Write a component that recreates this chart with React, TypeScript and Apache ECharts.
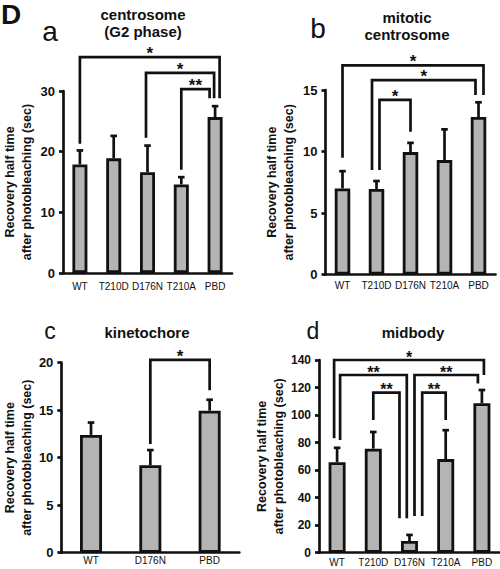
import { useEffect, useRef } from 'react';
import * as echarts from 'echarts';

// ---------- data ----------
const catsA = ['WT', 'T210D', 'D176N', 'T210A', 'PBD'];
const meanA = [17.9, 18.9, 16.6, 14.6, 25.7];
const errA = [20.2, 22.6, 21.0, 15.8, 27.5];
// [from, to, top, fromEnd, toEnd, label]
const bracketsA: [number, number, number, number, number, string][] = [
  [0, 4, 35.6, 21.3, 28.8, '*'],
  [2, 4, 33.0, 22.3, 28.8, '*'],
  [3, 4, 30.3, 17.0, 28.8, '**'],
];

const catsB = ['WT', 'T210D', 'D176N', 'T210A', 'PBD'];
const meanB = [7.0, 6.95, 9.95, 9.3, 12.8];
const errB = [8.4, 7.6, 10.7, 11.8, 14.0];
const bracketsB: [number, number, number, number, number, string][] = [
  [0, 4, 17.0, 9.5, 14.6, '*'],
  [1, 4, 15.8, 8.5, 14.6, '*'],
  [1, 2, 14.2, 8.5, 11.6, '*'],
];

const catsC = ['WT', 'D176N', 'PBD'];
const meanC = [12.4, 9.2, 14.95];
const errC = [13.7, 10.8, 16.1];
const bracketsC: [number, number, number, number, number, string][] = [
  [1, 2, 20.3, 11.45, 17.1, '*'],
];

const catsD = ['WT', 'T210D', 'D176N', 'T210A', 'PBD'];
const meanD = [65.8, 75.6, 8.5, 68.0, 108.6];
const errD = [76.2, 87.7, 12.9, 89.0, 118.2];
const bracketsD: [number, number, number, number, number, string][] = [
  [0, 4, 140, 83.1, 129.1, '*'],
  [0, 2, 129.1, 81.9, 25, '**'],
  [1, 2, 116.3, 96.4, 25, '**'],
  [2, 4, 129.1, 26.7, 123, '**'],
  [2, 3, 116.3, 26.7, 96.4, '**'],
];

// ---------- styling (leg offsets in px so parallel legs don't overlap) ----------
const legOffA = [[0, 4.5], [-1.5, -1], [0, -5.5]];
const legOffB = [[0, 5], [-4.5, -3], [3, 0]];
const legOffC = [[0, 0]];
const legOffD = [[-3, 2], [3, -2.7], [0, -10], [5, -4], [12.7, 0]];

const FONT = '"Liberation Sans", Arial, Helvetica, sans-serif';
const INK = '#111';
const BAR = '#b4b4b4';
const LW = 2.7;

type Panel = {
  cats: string[];
  mean: number[];
  err: number[];
  brackets: [number, number, number, number, number, string][];
  legOff: number[][];
  grid: { left: number; top: number; width: number; height: number };
  max: number;
  interval: number;
  barWidth: number;
  tickFont: number;
  catFont: number;
  catMargin: number;
  nameGap: number;
  starFont: number;
};

const panels: Panel[] = [
  {
    cats: catsA, mean: meanA, err: errA, brackets: bracketsA, legOff: legOffA,
    grid: { left: 62, top: 91, width: 170, height: 182 },
    max: 30, interval: 10, barWidth: 15, tickFont: 13, catFont: 10, catMargin: 8, nameGap: 28, starFont: 17,
  },
  {
    cats: catsB, mean: meanB, err: errB, brackets: bracketsB, legOff: legOffB,
    grid: { left: 325.5, top: 90, width: 170, height: 184.5 },
    max: 15, interval: 5, barWidth: 15.5, tickFont: 13, catFont: 10, catMargin: 6, nameGap: 28, starFont: 17,
  },
  {
    cats: catsC, mean: meanC, err: errC, brackets: bracketsC, legOff: legOffC,
    grid: { left: 57.3, top: 362.7, width: 182, height: 190 },
    max: 20, interval: 5, barWidth: 22, tickFont: 13, catFont: 10, catMargin: 3, nameGap: 24, starFont: 17,
  },
  {
    cats: catsD, mean: meanD, err: errD, brackets: bracketsD, legOff: legOffD,
    grid: { left: 319, top: 360, width: 181, height: 192.7 },
    max: 140, interval: 20, barWidth: 17, tickFont: 12, catFont: 10, catMargin: 5, nameGap: 29, starFont: 16,
  },
];

function buildOption() {
  const grid: any[] = [];
  const xAxis: any[] = [];
  const yAxis: any[] = [];
  const series: any[] = [];

  panels.forEach((p, k) => {
    grid.push({ ...p.grid, containLabel: false });
    xAxis.push({
      type: 'category',
      gridIndex: k,
      data: p.cats,
      boundaryGap: true,
      axisLine: { lineStyle: { color: INK, width: LW } },
      axisTick: { show: false },
      axisLabel: { color: INK, fontSize: p.catFont, fontFamily: FONT, margin: p.catMargin, interval: 0 },
      splitLine: { show: false },
    });
    yAxis.push({
      type: 'value',
      gridIndex: k,
      min: 0,
      max: p.max,
      interval: p.interval,
      name: 'Recovery half time\nafter photobleaching (sec)',
      nameLocation: 'middle',
      nameRotate: 90,
      nameGap: p.nameGap,
      nameTextStyle: { color: INK, fontSize: 12.5, fontWeight: 'bold', fontFamily: FONT, lineHeight: 17 },
      axisLine: { show: true, lineStyle: { color: INK, width: LW } },
      axisTick: { show: true, length: 4, lineStyle: { color: INK, width: LW } },
      axisLabel: { color: INK, fontSize: p.tickFont, fontWeight: 'bold', fontFamily: FONT, margin: 8 },
      splitLine: { show: false },
    });
    series.push({
      type: 'bar',
      xAxisIndex: k,
      yAxisIndex: k,
      data: p.mean,
      barWidth: p.barWidth,
      itemStyle: { color: BAR, borderColor: INK, borderWidth: 2.8 },
      z: 2,
    });
    series.push({
      type: 'custom',
      xAxisIndex: k,
      yAxisIndex: k,
      clip: false,
      z: 3,
      data: p.err.map((e, i) => [i, p.mean[i], e]),
      renderItem: (_params: any, api: any) => {
        const i = api.value(0);
        const base = api.coord([i, api.value(1)]);
        const top = api.coord([i, api.value(2)]);
        return {
          type: 'group',
          children: [
            { type: 'line', shape: { x1: base[0], y1: base[1], x2: top[0], y2: top[1] }, style: { stroke: INK, lineWidth: LW } },
            { type: 'line', shape: { x1: top[0] - 3.3, y1: top[1], x2: top[0] + 3.3, y2: top[1] }, style: { stroke: INK, lineWidth: LW } },
          ],
        };
      },
    });
    series.push({
      type: 'custom',
      xAxisIndex: k,
      yAxisIndex: k,
      clip: false,
      z: 4,
      data: p.brackets.map((b) => [b[0], b[2]]),
      renderItem: (params: any, api: any) => {
        const b = p.brackets[params.dataIndex];
        const o = p.legOff[params.dataIndex];
        const tl = api.coord([b[0], b[2]]);
        const tr = api.coord([b[1], b[2]]);
        const el = api.coord([b[0], b[3]]);
        const er = api.coord([b[1], b[4]]);
        const xl = tl[0] + o[0];
        const xr = tr[0] + o[1];
        return {
          type: 'group',
          children: [
            {
              type: 'polyline',
              shape: { points: [[xl, el[1]], [xl, tl[1]], [xr, tr[1]], [xr, er[1]]] },
              style: { stroke: INK, lineWidth: LW, fill: null, lineJoin: 'miter' },
            },
            {
              type: 'text',
              style: {
                text: b[5], x: (xl + xr) / 2, y: tl[1] + 5,
                align: 'center', verticalAlign: 'bottom',
                font: `bold ${p.starFont}px ${FONT}`, fill: INK,
              },
            },
          ],
        };
      },
    });
  });

  const txt = (text: string, x: number, y: number, size: number, bold: boolean, align = 'center') => ({
    type: 'text',
    x, y,
    style: { text, font: `${bold ? 'bold ' : ''}${size}px ${FONT}`, fill: INK, align, verticalAlign: 'middle' },
  });

  const graphic = [
    txt('D', 1, 14.5, 28, true, 'left'),
    txt('a', 50, 31, 28, false),
    txt('centrosome', 143, 14, 15, true),
    txt('(G2 phase)', 143, 31.5, 15, true),
    txt('b', 318, 28, 28, false),
    txt('mitotic', 407, 17, 15, true),
    txt('centrosome', 407, 34, 15, true),
    txt('c', 50, 331, 23, false),
    txt('kinetochore', 147, 332, 15, true),
    txt('d', 313, 331, 23, false),
    txt('midbody', 413, 332, 15, true),
  ];

  return { animation: false, backgroundColor: '#fff', grid, xAxis, yAxis, series, graphic };
}

export default function App() {
  const ref = useRef<HTMLDivElement>(null);
  useEffect(() => {
    if (!ref.current) return;
    const chart = echarts.init(ref.current, undefined, { renderer: 'svg' });
    chart.setOption(buildOption() as any);
    return () => chart.dispose();
  }, []);
  return (
    <div
      ref={ref}
      style={{ position: 'fixed', left: 0, top: 0, width: 500, height: 569, background: '#fff' }}
    />
  );
}
